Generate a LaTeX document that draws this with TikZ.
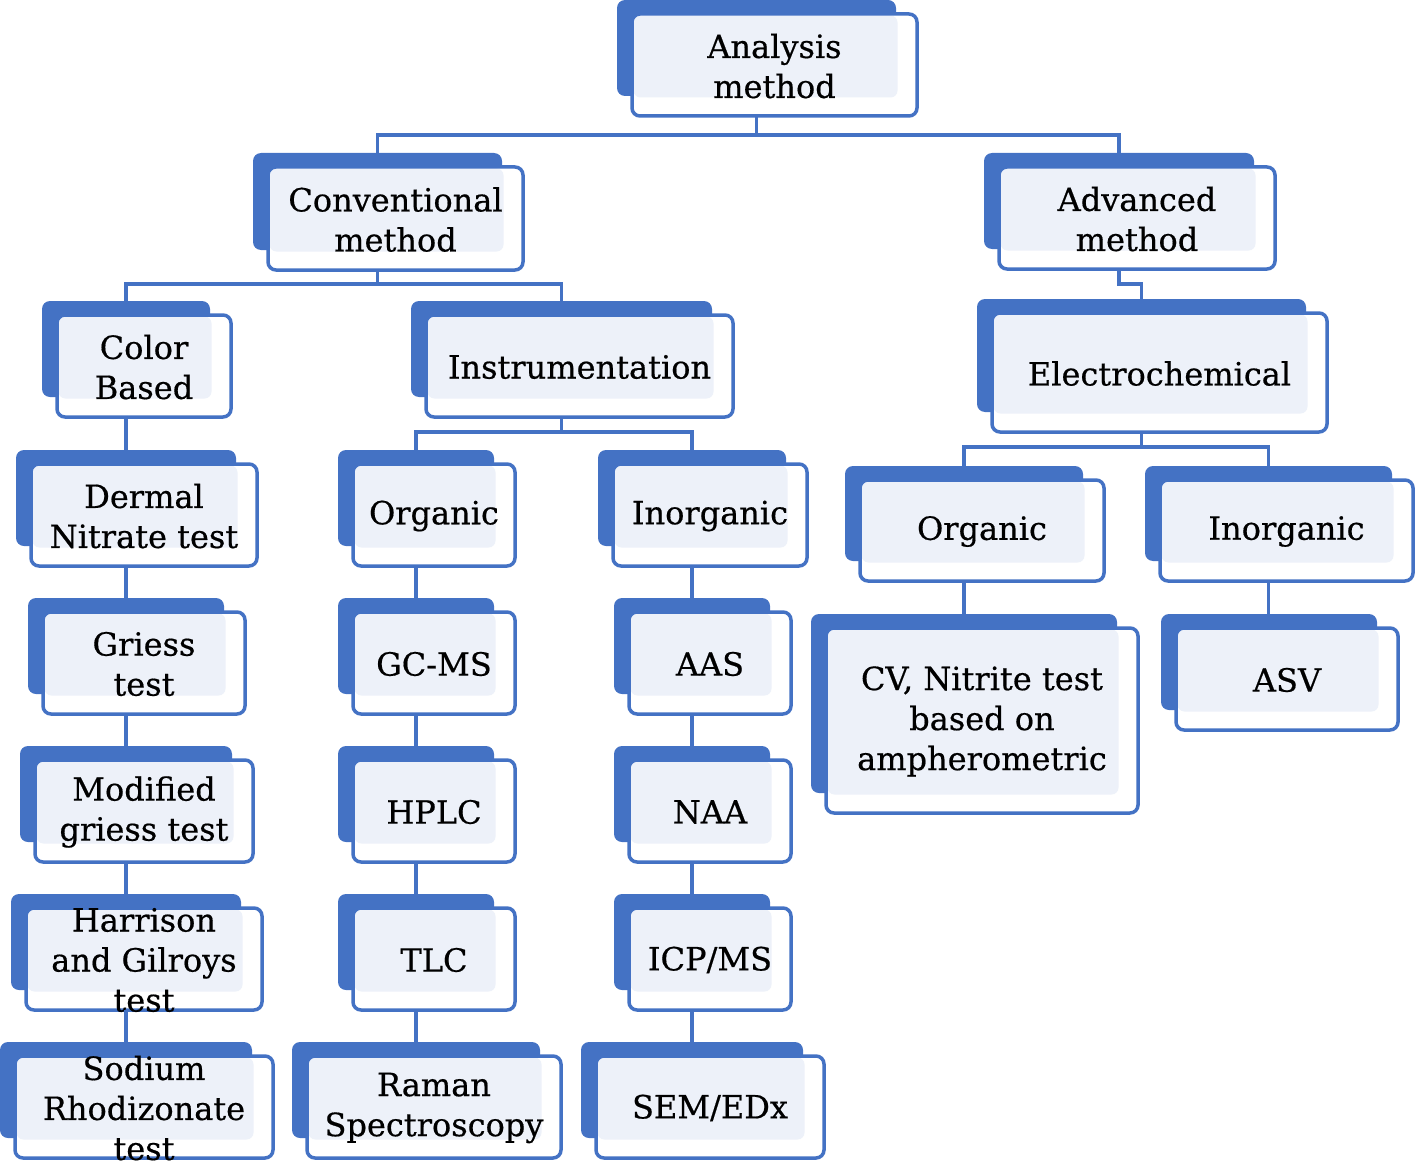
\documentclass[tikz,border=0pt]{standalone}
\usepackage{fontspec}
\setmainfont[FakeBold=0.5]{DejaVu Serif}
\usetikzlibrary{positioning}

\definecolor{tierblue}{HTML}{4472C4}
\definecolor{tierlight}{HTML}{EDF1F9}

\tikzset{
    backbox/.style={fill=tierblue, rounded corners=8pt, inner sep=0pt, outer sep=0pt},
    frontbox/.style={draw=tierblue, fill=white, line width=3.5pt, rounded corners=8pt,
        inner sep=0pt, outer sep=0pt,
        path picture={\fill[tierlight, rounded corners=7pt]
            ([shift={(1.5,1.5)}]path picture bounding box.north west) rectangle
            ([shift={(-19.5,-18.5)}]path picture bounding box.south east);}},
    tiertext/.style={align=center, inner sep=0pt, font=\fontsize{32}{40}\selectfont},
    link/.style={draw=tierblue, line width=3.5pt},
}

% #1 name, #2-#5 left top right bottom of the front box (px), #6 text
\newcommand\tier[6]{%
    \node[backbox, minimum width={#4pt-#2pt-6pt}, minimum height={#5pt-#3pt-6pt}]
        (#1-b) at ({(#2+#4)/2-18},{(#3+#5)/2-17}) {};
    \node[frontbox, minimum width={#4pt-#2pt}, minimum height={#5pt-#3pt}]
        (#1) at ({(#2+#4)/2},{(#3+#5)/2}) {};
    \node[tiertext] (#1-t) at ([yshift=-1pt]#1.center) {#6};
}

\begin{document}
\begin{tikzpicture}[x=1pt, y=-1pt]
    \useasboundingbox (0,0) rectangle (1415,1161);

    % top
    \tier{analysis}{632}{14}{917}{116}{Analysis\\method}
    \tier{conv}{268}{167}{523}{270}{Conventional\\method}
    \tier{adv}{999}{167}{1275}{269}{Advanced\\method}

    % conventional
    \tier{color}{57}{315}{231}{417}{Color\\Based}
    \tier{instr}{426}{315}{733}{417}{Instrumentation}

    \tier{dermal}{31}{464}{257}{566}{Dermal\\Nitrate test}
    \tier{griess}{43}{612}{245}{714}{Griess\\test}
    \tier{modgriess}{35}{760}{253}{862}{Modified\\griess test}
    \tier{harrison}{26}{908}{262}{1010}{Harrison\\and Gilroys\\test}
    \tier{sodium}{15}{1056}{273}{1158}{Sodium\\Rhodizonate\\test}

    \tier{org}{353}{464}{515}{566}{Organic}
    \tier{gcms}{353}{612}{515}{714}{GC-MS}
    \tier{hplc}{353}{760}{515}{862}{HPLC}
    \tier{tlc}{353}{908}{515}{1010}{TLC}
    \tier{raman}{307}{1056}{561}{1158}{Raman\\Spectroscopy}

    \tier{inorg}{613}{464}{807}{566}{Inorganic}
    \tier{aas}{629}{612}{791}{714}{AAS}
    \tier{naa}{629}{760}{791}{862}{NAA}
    \tier{icpms}{629}{908}{791}{1010}{ICP/MS}
    \tier{semedx}{596}{1056}{824}{1158}{SEM/EDx}

    % advanced
    \tier{electro}{992}{313}{1327}{432}{Electrochemical}
    \tier{eorg}{860}{480}{1104}{581}{Organic}
    \tier{einorg}{1160}{480}{1413}{581}{Inorganic}
    \tier{cv}{826}{628}{1138}{813}{CV, Nitrite test\\based on\\ampherometric}
    \tier{asv}{1176}{628}{1398}{730}{ASV}

    % connectors
    \draw[link] (analysis-b |- analysis.south) -- ++(0,19) -| (conv-b.north);
    \draw[link] (analysis-b |- analysis.south) -- ++(0,19) -| (adv-b.north);
    \draw[link] (conv-b |- conv.south) -- ++(0,14) -| (color-b.north);
    \draw[link] (conv-b |- conv.south) -- ++(0,14) -| (instr-b.north);
    \draw[link] (adv-b |- adv.south) -- ++(0,15) -| (electro-b.north);
    \draw[link] (instr-b |- instr.south) -- ++(0,15) -| (org-b.north);
    \draw[link] (instr-b |- instr.south) -- ++(0,15) -| (inorg-b.north);
    \draw[link] (electro-b |- electro.south) -- ++(0,15) -| (eorg-b.north);
    \draw[link] (electro-b |- electro.south) -- ++(0,15) -| (einorg-b.north);

    \foreach \a/\b in {color/dermal, dermal/griess, griess/modgriess, modgriess/harrison,
        harrison/sodium, org/gcms, gcms/hplc, hplc/tlc, tlc/raman,
        inorg/aas, aas/naa, naa/icpms, icpms/semedx, eorg/cv, einorg/asv}
        \draw[link] (\a-b |- \a.south) -- (\a-b |- \b-b.north);
\end{tikzpicture}
\end{document}
